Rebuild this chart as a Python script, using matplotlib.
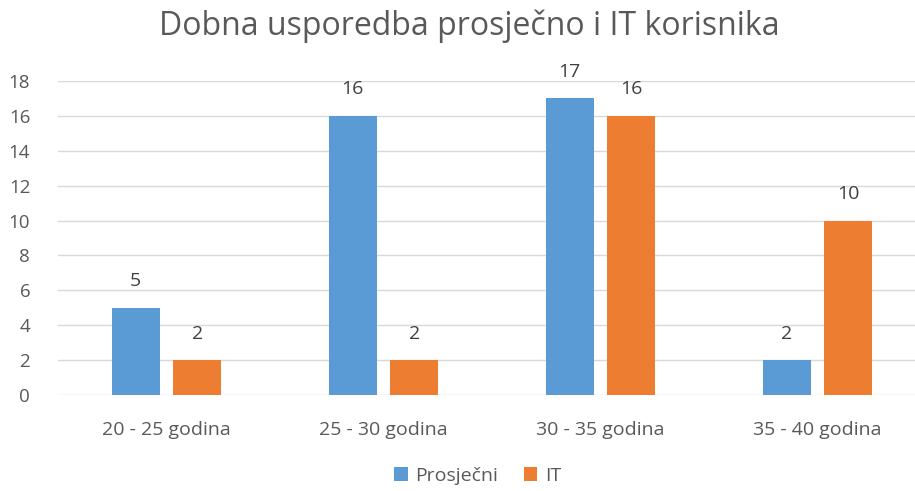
import matplotlib
matplotlib.use('Agg')
import matplotlib.pyplot as plt
import numpy as np

# age groups and counts per user type
categories = ["20 - 25 godina", "25 - 30 godina", "30 - 35 godina", "35 - 40 godina"]
prosjecni = [5, 16, 17, 2]
it_users = [2, 2, 16, 10]

blue = "#5B9BD5"
orange = "#ED7D31"
text_col = "#595959"

plt.rcParams['font.family'] = ['Open Sans', 'DejaVu Sans']

fig = plt.figure(figsize=(9.15, 4.91), dpi=100)
ax = fig.add_axes([58 / 915, 1 - 395 / 491, (915 - 58) / 915, (395 - 81) / 491])

x = np.arange(len(categories))
w = 0.222
off = 0.142
b1 = ax.bar(x - off, prosjecni, w, color=blue, label="Prosječni")
b2 = ax.bar(x + off, it_users, w, color=orange, label="IT")

# value labels above the bars
for bars, vals in ((b1, prosjecni), (b2, it_users)):
    for rect, v in zip(bars, vals):
        ax.text(rect.get_x() + rect.get_width() / 2, v + 1.0, str(v),
                ha='center', va='bottom', fontsize=14, color="#404040")

ax.set_xlim(-0.5, -0.5 + (915 - 58) / 217)
ax.set_ylim(0, 18)
ax.set_yticks(range(0, 19, 2))
ax.set_xticks(x)
ax.set_xticklabels(categories)
ax.tick_params(axis='y', length=0, labelsize=13.5, colors=text_col, pad=20)
ax.tick_params(axis='x', length=0, labelsize=14, colors=text_col, pad=19)
ax.yaxis.grid(True, color="#D9D9D9", linewidth=1)
ax.set_axisbelow(True)
for s in ax.spines.values():
    s.set_visible(False)

fig.suptitle("Dobna usporedba prosječno i IT korisnika", x=0.513, y=0.98, fontsize=23, color=text_col)
fig.legend(handles=[b1, b2], loc='center', bbox_to_anchor=(0.522, 1 - 476 / 491), ncol=2,
           frameon=False, fontsize=14, handlelength=0.7, handleheight=0.7,
           handletextpad=0.4, columnspacing=1.3, labelcolor=text_col)

fig.savefig("out.png", dpi=100)
